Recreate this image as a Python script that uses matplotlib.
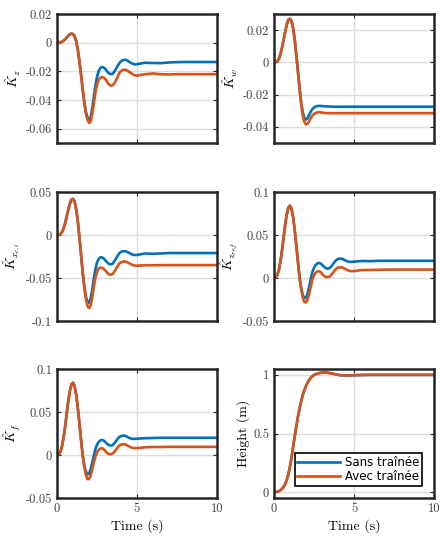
import matplotlib
matplotlib.use("Agg")
import matplotlib.pyplot as plt

plt.rcParams['font.family'] = 'serif'
plt.rcParams['font.serif'] = ['cmr10']
plt.rcParams['mathtext.fontset'] = 'cm'
plt.rcParams['axes.unicode_minus'] = False
plt.rcParams['axes.formatter.use_mathtext'] = True

# time samples (s)
t = [0.0, 0.1, 0.2, 0.3, 0.4, 0.5, 0.6, 0.7, 0.8, 0.9,
     1.0, 1.1, 1.2, 1.3, 1.4, 1.5, 1.6, 1.7, 1.8, 1.9,
     2.0, 2.1, 2.2, 2.3, 2.4, 2.5, 2.6, 2.7, 2.8, 2.9,
     3.0, 3.1, 3.2, 3.3, 3.4, 3.5, 3.6, 3.7, 3.8, 3.9,
     4.0, 4.1, 4.2, 4.3, 4.4, 4.5, 4.6, 4.7, 4.8, 4.9,
     5.0, 5.5, 6.0, 6.5, 7.0, 7.5, 8.0, 8.5, 9.0, 9.5, 10.0]

kz_sans = [0, 0, 0.0002, 0.0006, 0.0013, 0.0023, 0.0035, 0.0048, 0.0058, 0.0063,
           0.006, 0.0045, 0.001, -0.005, -0.013, -0.022, -0.032, -0.041, -0.048, -0.052,
           -0.054, -0.052, -0.046, -0.038, -0.030, -0.024, -0.020, -0.0178, -0.017, -0.0172,
           -0.018, -0.0195, -0.021, -0.0218, -0.022, -0.0215, -0.020, -0.018, -0.016, -0.0143,
           -0.013, -0.0122, -0.012, -0.012, -0.0125, -0.0133, -0.014, -0.0146, -0.015, -0.0152,
           -0.015, -0.014, -0.0142, -0.0143, -0.0138, -0.0136, -0.0135, -0.0135, -0.0135,
           -0.0135, -0.0135]
kz_avec = [0, 0, 0.0002, 0.0006, 0.0013, 0.0023, 0.0035, 0.0048, 0.0058, 0.0063,
           0.006, 0.0045, 0.001, -0.005, -0.013, -0.022, -0.032, -0.0415, -0.049, -0.0535,
           -0.056, -0.055, -0.050, -0.043, -0.035, -0.0295, -0.026, -0.0245, -0.024, -0.0243,
           -0.025, -0.0268, -0.0285, -0.0297, -0.030, -0.0295, -0.028, -0.026, -0.0235, -0.021,
           -0.0198, -0.019, -0.0188, -0.019, -0.0195, -0.0203, -0.021, -0.0218, -0.0225, -0.0228,
           -0.023, -0.022, -0.0215, -0.022, -0.0222, -0.022, -0.022, -0.022, -0.022,
           -0.022, -0.022]

kw_sans = [0, 0.0001, 0.0006, 0.002, 0.005, 0.009, 0.014, 0.019, 0.0235, 0.0265,
           0.027, 0.0255, 0.021, 0.0135, 0.004, -0.006, -0.016, -0.025, -0.031, -0.0345,
           -0.0355, -0.0345, -0.0325, -0.0305, -0.029, -0.028, -0.0274, -0.0271, -0.027, -0.027,
           -0.0271, -0.0272, -0.0273, -0.0273, -0.0274, -0.0274, -0.0274, -0.0275, -0.0275, -0.0275,
           -0.0275, -0.0275, -0.0275, -0.0275, -0.0275, -0.0275, -0.0275, -0.0275, -0.0275, -0.0275,
           -0.0275, -0.0275, -0.0275, -0.0275, -0.0275, -0.0275, -0.0275, -0.0275, -0.0275,
           -0.0275, -0.0275]
kw_avec = [0, 0.0001, 0.0006, 0.002, 0.005, 0.009, 0.014, 0.019, 0.0235, 0.0265,
           0.027, 0.0255, 0.021, 0.0135, 0.004, -0.006, -0.0165, -0.026, -0.033, -0.037,
           -0.0385, -0.038, -0.0365, -0.0345, -0.033, -0.032, -0.0315, -0.031, -0.031, -0.031,
           -0.0312, -0.0313, -0.0314, -0.0315, -0.0315, -0.0315, -0.0315, -0.0315, -0.0315, -0.0315,
           -0.0315, -0.0315, -0.0315, -0.0315, -0.0315, -0.0315, -0.0315, -0.0315, -0.0315, -0.0315,
           -0.0315, -0.0315, -0.0315, -0.0315, -0.0315, -0.0315, -0.0315, -0.0315, -0.0315,
           -0.0315, -0.0315]

kx_sans = [0, 0.0002, 0.001, 0.003, 0.007, 0.013, 0.021, 0.029, 0.036, 0.041,
           0.042, 0.039, 0.030, 0.016, -0.002, -0.022, -0.042, -0.059, -0.071, -0.078,
           -0.079, -0.074, -0.064, -0.051, -0.040, -0.032, -0.028, -0.026, -0.026, -0.027,
           -0.029, -0.031, -0.033, -0.034, -0.034, -0.033, -0.030, -0.027, -0.024, -0.021,
           -0.0198, -0.019, -0.0188, -0.019, -0.0197, -0.0207, -0.0218, -0.0227, -0.0232, -0.0233,
           -0.0232, -0.0215, -0.0218, -0.0215, -0.021, -0.021, -0.021, -0.021, -0.021,
           -0.021, -0.021]
kx_avec = [0, 0.0002, 0.001, 0.003, 0.007, 0.013, 0.021, 0.029, 0.036, 0.041,
           0.042, 0.039, 0.030, 0.016, -0.002, -0.022, -0.043, -0.060, -0.074, -0.082,
           -0.085, -0.082, -0.073, -0.061, -0.050, -0.043, -0.039, -0.038, -0.038, -0.039,
           -0.041, -0.043, -0.045, -0.046, -0.046, -0.045, -0.042, -0.039, -0.036, -0.033,
           -0.032, -0.031, -0.0308, -0.031, -0.0318, -0.0328, -0.0338, -0.0347, -0.0353, -0.0356,
           -0.0357, -0.0352, -0.0352, -0.035, -0.035, -0.035, -0.035, -0.035, -0.035,
           -0.035, -0.035]

kzref_sans = [0, 0.0005, 0.003, 0.009, 0.019, 0.032, 0.047, 0.062, 0.074, 0.082,
              0.084, 0.080, 0.070, 0.055, 0.037, 0.018, 0.001, -0.012, -0.020, -0.0235,
              -0.023, -0.018, -0.010, -0.001, 0.007, 0.012, 0.015, 0.0168, 0.0175, 0.017,
              0.0155, 0.0135, 0.012, 0.011, 0.011, 0.012, 0.014, 0.0165, 0.019, 0.021,
              0.022, 0.0225, 0.0225, 0.022, 0.021, 0.020, 0.0193, 0.0188, 0.0187, 0.0188,
              0.019, 0.0198, 0.0195, 0.020, 0.020, 0.020, 0.020, 0.020, 0.020,
              0.020, 0.020]
kzref_avec = [0, 0.0005, 0.003, 0.009, 0.019, 0.032, 0.047, 0.062, 0.074, 0.082,
              0.084, 0.080, 0.070, 0.055, 0.037, 0.018, 0.0, -0.013, -0.023, -0.028,
              -0.0285, -0.025, -0.018, -0.010, -0.002, 0.003, 0.006, 0.0075, 0.008, 0.007,
              0.005, 0.003, 0.0015, 0.001, 0.001, 0.002, 0.004, 0.0065, 0.009, 0.011,
              0.012, 0.0125, 0.0125, 0.012, 0.011, 0.010, 0.009, 0.0085, 0.008, 0.008,
              0.008, 0.0092, 0.0093, 0.0095, 0.0097, 0.0098, 0.0098, 0.0098, 0.0098,
              0.0098, 0.0098]

kf_sans = [0, 0.0005, 0.003, 0.009, 0.019, 0.032, 0.047, 0.062, 0.074, 0.082,
           0.084, 0.080, 0.070, 0.055, 0.037, 0.018, 0.001, -0.012, -0.019, -0.0225,
           -0.022, -0.017, -0.009, -0.001, 0.007, 0.012, 0.015, 0.0168, 0.0175, 0.017,
           0.0155, 0.0135, 0.012, 0.011, 0.011, 0.012, 0.014, 0.0165, 0.019, 0.021,
           0.022, 0.0225, 0.0225, 0.022, 0.021, 0.020, 0.0193, 0.0188, 0.0187, 0.0188,
           0.019, 0.0195, 0.0198, 0.020, 0.020, 0.020, 0.020, 0.020, 0.020,
           0.020, 0.020]
kf_avec = [0, 0.0005, 0.003, 0.009, 0.019, 0.032, 0.047, 0.062, 0.074, 0.082,
           0.084, 0.080, 0.070, 0.055, 0.037, 0.018, 0.0, -0.013, -0.023, -0.028,
           -0.028, -0.024, -0.017, -0.009, -0.002, 0.003, 0.006, 0.0075, 0.008, 0.007,
           0.005, 0.003, 0.0015, 0.001, 0.001, 0.002, 0.004, 0.0065, 0.009, 0.011,
           0.012, 0.0125, 0.0125, 0.012, 0.011, 0.010, 0.009, 0.0085, 0.008, 0.008,
           0.008, 0.009, 0.0093, 0.0093, 0.0095, 0.0095, 0.0095, 0.0095, 0.0095,
           0.0095, 0.0095]

h_sans = [0, 0.001, 0.003, 0.008, 0.016, 0.028, 0.045, 0.07, 0.105, 0.155,
          0.22, 0.30, 0.39, 0.48, 0.565, 0.645, 0.715, 0.775, 0.83, 0.87,
          0.905, 0.935, 0.957, 0.975, 0.988, 0.998, 1.005, 1.01, 1.014, 1.017,
          1.019, 1.02, 1.02, 1.019, 1.017, 1.015, 1.012, 1.009, 1.006, 1.003,
          1.0, 0.998, 0.997, 0.996, 0.995, 0.995, 0.995, 0.995, 0.996, 0.996,
          0.997, 0.999, 1.0, 1.0, 1.0, 1.0, 1.0, 1.0, 1.0, 1.0, 1.0]
h_avec = list(h_sans)

panels = [
    (kz_sans, kz_avec, r'$\hat{K}_z$', (-0.07, 0.02), [-0.06, -0.04, -0.02, 0, 0.02],
     ['-0.06', '-0.04', '-0.02', '0', '0.02']),
    (kw_sans, kw_avec, r'$\hat{K}_w$', (-0.05, 0.03), [-0.04, -0.02, 0, 0.02],
     ['-0.04', '-0.02', '0', '0.02']),
    (kx_sans, kx_avec, r'$\hat{K}_{x_{c,i}}$', (-0.1, 0.05), [-0.1, -0.05, 0, 0.05],
     ['-0.1', '-0.05', '0', '0.05']),
    (kzref_sans, kzref_avec, r'$\hat{K}_{z_{ref}}$', (-0.05, 0.1), [-0.05, 0, 0.05, 0.1],
     ['-0.05', '0', '0.05', '0.1']),
    (kf_sans, kf_avec, r'$\hat{K}_f$', (-0.05, 0.1), [-0.05, 0, 0.05, 0.1],
     ['-0.05', '0', '0.05', '0.1']),
    (h_sans, h_avec, 'Height (m)', (-0.05, 1.05), [0, 0.5, 1], ['0', '0.5', '1']),
]

blue = '#0072BD'
orange = '#D95319'

fig = plt.figure(figsize=(4.41, 5.4), dpi=100)
lefts = [57 / 441, 274 / 441]
bottoms = [1 - 143 / 540, 1 - 321 / 540, 1 - 498 / 540]
w = 160 / 441
h = 129 / 540

for i, (s, a, lab, ylim, yt, ytl) in enumerate(panels):
    assert len(s) == len(t) and len(a) == len(t)
    row, col = i // 2, i % 2
    ax = fig.add_axes([lefts[col], bottoms[row], w, h])
    ax.plot(t, s, color=blue, lw=1.9, label='Sans traînée')
    ax.plot(t, a, color=orange, lw=1.9, label='Avec traînée')
    ax.set_xlim(0, 10)
    ax.set_ylim(*ylim)
    ax.set_xticks([0, 5, 10])
    ax.set_yticks(yt)
    ax.set_yticklabels(ytl)
    if row == 2:
        ax.set_xticklabels(['0', '5', '10'])
        ax.set_xlabel('Time (s)', fontsize=10, labelpad=3)
    else:
        ax.set_xticklabels([])
    ax.set_ylabel(lab, fontsize=10, labelpad=2)
    ax.grid(True, color='#dcdcdc', lw=1)
    ax.set_axisbelow(True)
    ax.tick_params(direction='in', top=True, right=True, length=3, width=0.8,
                   labelsize=9, colors='#262626', labelcolor='#404040')
    for sp in ax.spines.values():
        sp.set_linewidth(1.8)
        sp.set_color('#262626')
    if i == 5:
        leg = ax.legend(loc='lower right', bbox_to_anchor=(0.925, 0.09),
                        prop={'family': 'DejaVu Sans', 'size': 8.5},
                        fancybox=False, edgecolor='black', framealpha=1,
                        handlelength=3.6, borderpad=0.25, labelspacing=0.15,
                        handletextpad=0.4, borderaxespad=0)
        leg.get_frame().set_linewidth(1.2)

fig.savefig('out.png', dpi=100)
